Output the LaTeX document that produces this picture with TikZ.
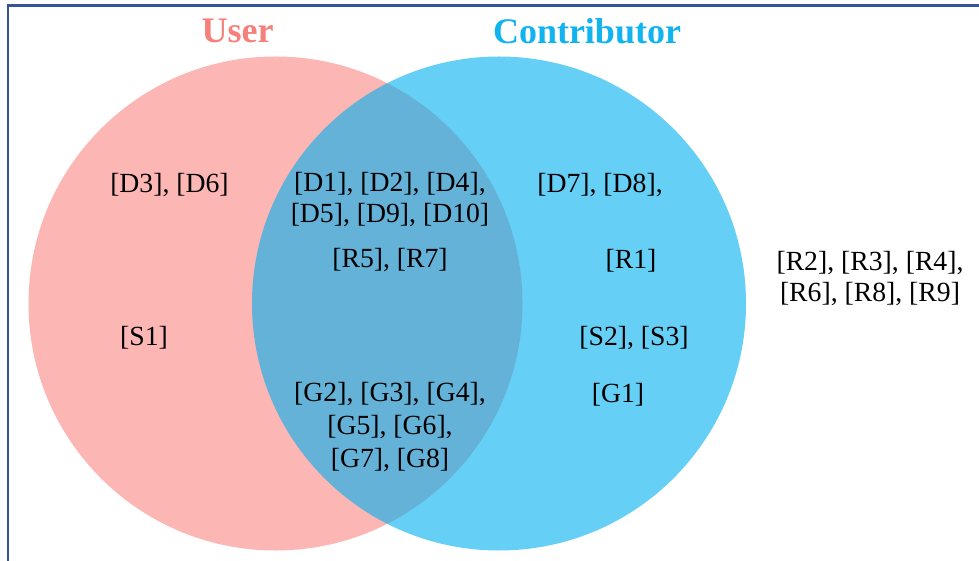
\documentclass[tikz,border=0pt]{standalone}
\usepackage{fontspec}
\setmainfont{Liberation Serif}
\definecolor{pinkfill}{RGB}{252,182,180}
\definecolor{bluefill}{RGB}{0,176,240}
\definecolor{usertitle}{RGB}{245,128,124}
\definecolor{contribtitle}{RGB}{18,180,240}
\definecolor{framecol}{RGB}{52,84,150}
\begin{document}
\begin{tikzpicture}[x=1pt,y=-1pt,
  lbl/.style={align=center,inner sep=0pt,font=\fontsize{27.7}{31.5}\selectfont},
  ttl/.style={inner sep=0pt,font=\fontsize{36}{40}\selectfont\bfseries}]
\useasboundingbox (0,0) rectangle (979,561);
\clip (0,0) rectangle (979,561);
\fill[white] (0,0) rectangle (979,561);
\draw[framecol,line width=2.5pt] (8,5.5) rectangle (1100,700);
\fill[pinkfill] (275.5,303.5) circle (247);
\fill[bluefill,fill opacity=0.6] (499,303.5) circle (247);
\node[ttl,text=usertitle] (user) at (237.5,31) {User};
\node[ttl,text=contribtitle] (contrib) at (587,31) {Contributor};
\node[lbl] (d36) at (169.5,185.5) {[D3], [D6]};
\node[lbl] (dmid) at (390,199.5) {[D1], [D2], [D4],\\{}[D5], [D9], [D10]};
\node[lbl] (r57) at (390,260.5) {[R5], [R7]};
\node[lbl] (d78) at (600,185.5) {[D7], [D8],};
\node[lbl] (r1) at (631,260.5) {[R1]};
\node[lbl] (rout) at (870,278.5) {[R2], [R3], [R4],\\{}[R6], [R8], [R9]};
\node[lbl] (s1) at (144,337.5) {[S1]};
\node[lbl] (s23) at (634,338.5) {[S2], [S3]};
\node[lbl] (g1) at (618,394.5) {[G1]};
\node[lbl,font=\fontsize{27.7}{33}\selectfont] (gmid) at (390,427.5) {[G2], [G3], [G4],\\{}[G5], [G6],\\{}[G7], [G8]};
\end{tikzpicture}
\end{document}
